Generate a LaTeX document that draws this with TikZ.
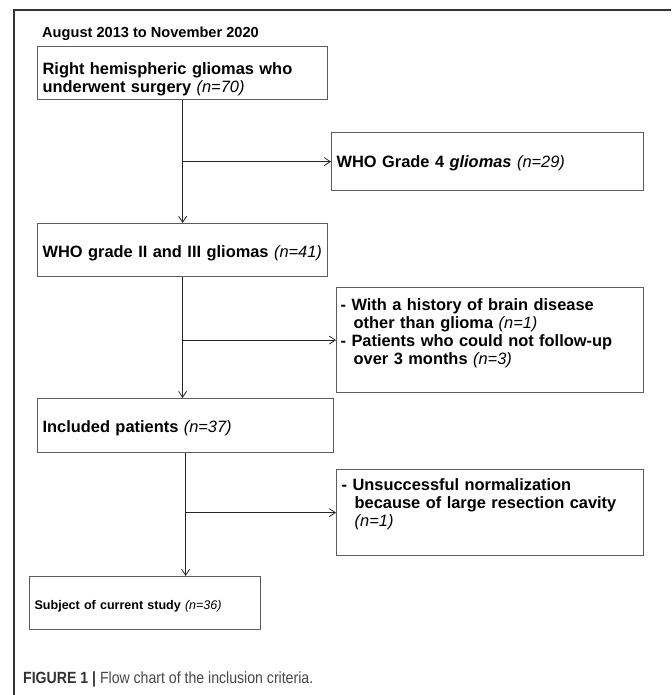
\documentclass[tikz,border=0pt]{standalone}
\usepackage{graphicx}
\usepackage{fontspec}
\setmainfont{Liberation Sans}
\newfontfamily\capfont[FakeStretch=0.87]{Liberation Sans}
\usetikzlibrary{arrows.meta, positioning}
\definecolor{boxgrey}{HTML}{5C5C5C}
\definecolor{capgrey}{HTML}{333333}
\definecolor{capgreylight}{HTML}{474747}
\newcommand{\nval}[1]{\textnormal{\itshape (#1)}}
\newcommand{\ind}{\hspace*{0.8em}}
% first-line height, last-line depth, text
\newcommand{\boxlines}[3]{\rule{0pt}{#1}#3\rule[-#2]{0pt}{0pt}}
\tikzset{
	flowbox/.style={draw=boxgrey, line width=1.2pt, anchor=north west, align=left, inner xsep=5pt, inner ysep=0pt, font=\fontsize{16.4}{18}\selectfont\bfseries},
	flowline/.style={draw=black!85, line width=0.9pt, -{Straight Barb[length=6pt, width=8pt, line width=0.8pt]}},
}

\begin{document}
\begin{tikzpicture}[x=1pt, y=-1pt]
		\useasboundingbox (0,0) rectangle (671,695);
		% figure frame
		\draw[capgrey, line width=1.8pt] (671,10) -- (14,10) -- (14,695);
		\node[anchor=base west, inner sep=0pt, font=\fontsize{14.6}{17}\selectfont\bfseries] (period) at (42,38) {August 2013 to November 2020};
		% main column
		\node[flowbox, text width=280pt] (surg) at (37,46) {\boxlines{28pt}{7pt}{Right hemispheric gliomas who\\underwent surgery \nval{n=70}}};
		\node[flowbox, text width=280pt] (low) at (37,223) {\boxlines{34pt}{19pt}{WHO grade II and III gliomas \nval{n=41}}};
		\node[flowbox, text width=286pt] (incl) at (37,398) {\boxlines{34pt}{20pt}{Included patients \nval{n=37}}};
		\node[flowbox, text width=221pt] (subj) at (29,576) {\boxlines{33pt}{20pt}{\resizebox{187pt}{!}{Subject of current study \nval{n=36}}}};
		% exclusions
		\node[flowbox, text width=302pt] (excl1) at (331,132) {\boxlines{35pt}{23pt}{WHO Grade 4 \textit{gliomas} \nval{n=29}}};
		\node[flowbox, text width=299pt, inner xsep=4pt] (excl2) at (336,287) {\boxlines{23pt}{28pt}{- With a history of brain disease\\\ind other than glioma \nval{n=1}\\- Patients who could not follow-up\\\ind over 3 months \nval{n=3}}};
		\node[flowbox, text width=297pt] (excl3) at (336,469) {\boxlines{21pt}{29pt}{- Unsuccessful normalization\\\ind because of large resection cavity\\\ind \nval{n=1}}};
		% connectors
		\draw[flowline] (surg.south) -- (low.north);
		\draw[flowline] (surg.south |- excl1.west) -- (excl1.west);
		\draw[flowline] (low.south) -- (low.south |- incl.north);
		\draw[flowline] (low.south |- excl2.west) -- (excl2.west);
		\draw[flowline] (incl.south) -- (incl.south |- subj.north);
		\draw[flowline] (incl.south |- excl3.west) -- (excl3.west);
		% caption
		\node[anchor=base west, inner sep=0pt, font=\capfont\fontsize{18}{21}\selectfont] (caption) at (23,683) {\resizebox{290pt}{!}{\textcolor{capgrey}{\textbf{FIGURE 1 |}} \textcolor{capgreylight}{Flow chart of the inclusion criteria.}}};
	\end{tikzpicture}
\end{document}
